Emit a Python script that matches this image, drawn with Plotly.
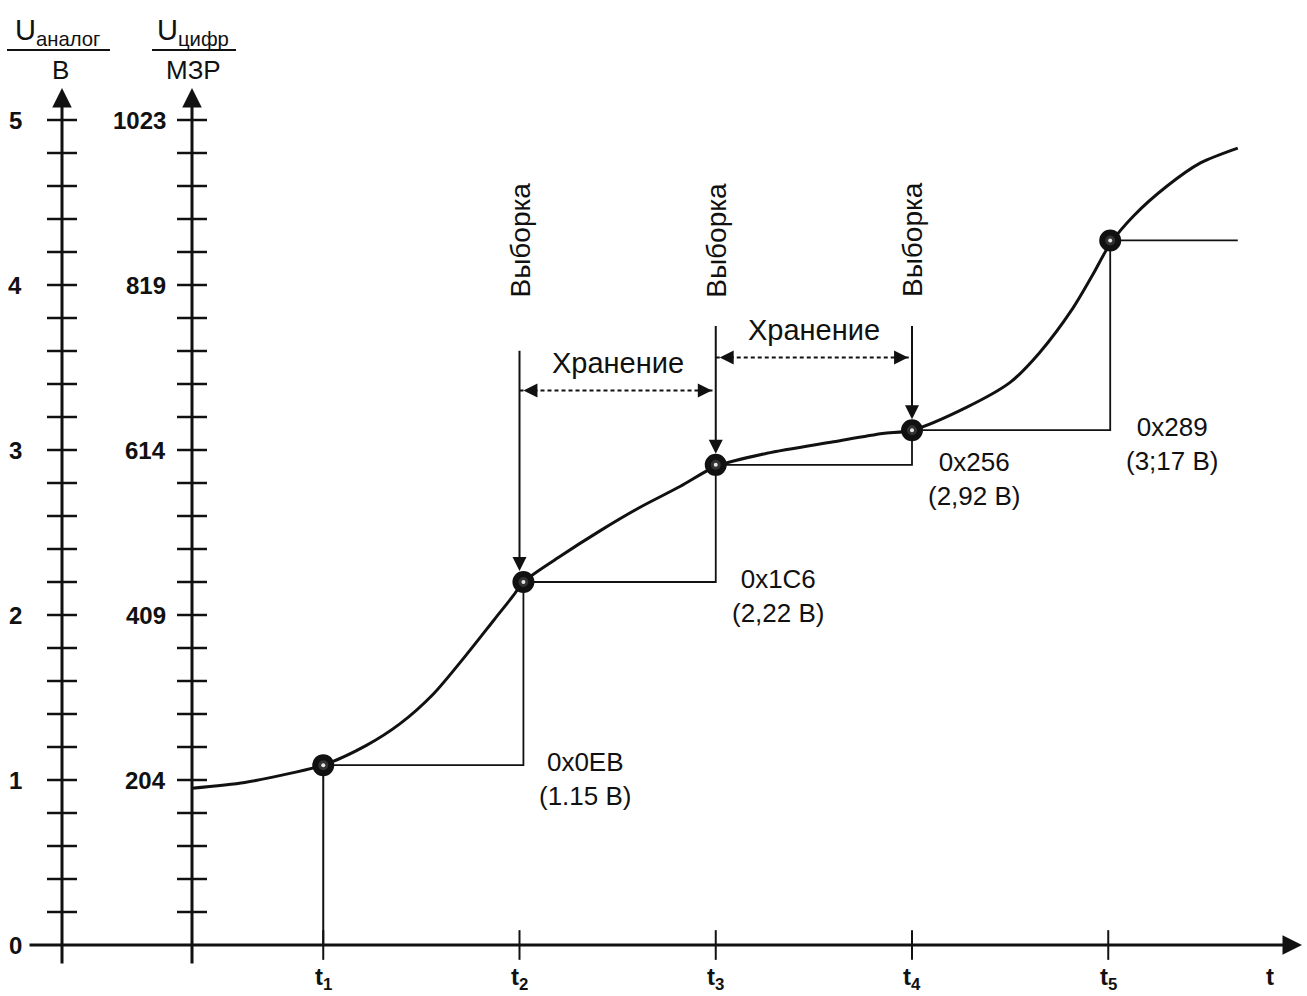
"""Sample-and-hold timing diagram for an ADC (analog vs. digital scale)."""

import plotly.graph_objects as go

# ---- data -----------------------------------------------------------------
# time axis: sampling instants in units of the sampling period
t_ticks = [1, 2, 3, 4, 5]
t_labels = ["t<sub>1</sub>", "t<sub>2</sub>", "t<sub>3</sub>", "t<sub>4</sub>", "t<sub>5</sub>"]

# left axis (volts) and right axis (LSB codes)
analog_levels = [0, 1, 2, 3, 4, 5]
analog_labels = ["0", "1", "2", "3", "4", "5"]
digital_levels = [1, 2, 3, 4, 5]
digital_labels = ["204", "409", "614", "819", "1023"]
minor_step = 0.2

# analog input signal
curve_t = [0.33, 0.6, 0.83, 1.0, 1.22, 1.39, 1.56, 1.73, 1.87, 1.97, 2.02,
           2.2, 2.41, 2.61, 2.82, 3.0, 3.26, 3.6, 3.85, 4.0, 4.28, 4.5, 4.65,
           4.82, 4.92, 5.01, 5.13, 5.3, 5.47, 5.66]
curve_v = [0.95, 0.985, 1.04, 1.09, 1.21, 1.34, 1.52, 1.76, 1.97, 2.12, 2.2,
           2.35, 2.51, 2.65, 2.78, 2.9, 2.98, 3.05, 3.1, 3.12, 3.26, 3.41, 3.59,
           3.86, 4.06, 4.25, 4.42, 4.6, 4.74, 4.83]

# sampled values (held until the next sample)
sample_t = [1.0, 2.02, 3.0, 4.0, 5.01]
sample_v = [1.09, 2.2, 2.91, 3.12, 4.27]
hold_end_t = 5.66

sample_codes = ["0x0EB", "0x1C6", "0x256", "0x289"]
sample_volts = ["(1.15 В)", "(2,22 В)", "(2,92 В)", "(3;17 В)"]

# "Выборка" markers and "Хранение" spans
select_t = [2.0, 3.0, 4.0]
select_top = [3.61, 3.76, 3.76]
hold_from = [2.0, 3.0]
hold_to = [3.0, 4.0]
hold_level = [3.36, 3.56]

# ---- geometry helpers (pixel layout of the drawing) -------------------------
W, H = 1307, 996
X0_PX, X_SCALE = 127, 196.25
Y0_PX, Y_SCALE = 945, 165.0


def px_x(px):
    return (px - X0_PX) / X_SCALE


def px_y(py):
    return (Y0_PX - py) / Y_SCALE


ANALOG_X = px_x(62)
DIGITAL_X = px_x(192)
AXIS_BOTTOM = px_y(965)
AXIS_TOP = px_y(88)
TICK_HALF = 15 / X_SCALE

INK = "#111111"
FONT = "Arial, Liberation Sans, sans-serif"

fig = go.Figure()

# vertical axis ticks (both scales share the same spacing)
n_minor = int(round(5 / minor_step))
tick_x, tick_y = [], []
for axis_x in (ANALOG_X, DIGITAL_X):
    for i in range(1, n_minor + 1):
        v = i * minor_step
        tick_x += [axis_x - TICK_HALF, axis_x + TICK_HALF, None]
        tick_y += [v, v, None]
fig.add_trace(go.Scatter(x=tick_x, y=tick_y, mode="lines",
                         line=dict(color=INK, width=2.5), hoverinfo="skip"))

# time axis ticks
tx, ty = [], []
for t in t_ticks:
    tx += [t, t, None]
    ty += [0.09, -0.09, None]
fig.add_trace(go.Scatter(x=tx, y=ty, mode="lines",
                         line=dict(color=INK, width=2), hoverinfo="skip"))

# hold staircase
stair_t = sample_t + [hold_end_t]
stair_v = sample_v + [sample_v[-1]]
fig.add_trace(go.Scatter(x=stair_t, y=stair_v, mode="lines", line_shape="hv",
                         line=dict(color=INK, width=1.8), hoverinfo="skip"))

# drop line from the first sample to the time axis
fig.add_trace(go.Scatter(x=[sample_t[0], sample_t[0]], y=[sample_v[0], 0],
                         mode="lines", line=dict(color=INK, width=2),
                         hoverinfo="skip"))

# "Хранение" spans (dashed)
for a, b, lvl in zip(hold_from, hold_to, hold_level):
    fig.add_trace(go.Scatter(x=[a, b], y=[lvl, lvl], mode="lines",
                             line=dict(color=INK, width=2, dash="4px,3px"),
                             hoverinfo="skip"))

# analog signal
fig.add_trace(go.Scatter(x=curve_t, y=curve_v, mode="lines",
                         line=dict(color=INK, width=3, shape="spline", smoothing=0.8),
                         hoverinfo="skip"))

# sample points: dark ring with a small light centre
fig.add_trace(go.Scatter(x=sample_t, y=sample_v, mode="markers",
                         marker=dict(size=16, color="#333333",
                                     line=dict(color=INK, width=6)),
                         hoverinfo="skip"))
fig.add_trace(go.Scatter(x=sample_t, y=sample_v, mode="markers",
                         marker=dict(size=4, color="#e6e6e6"),
                         hoverinfo="skip"))

annotations = []


def arrow(x, y, ax, ay, width=3, size=1.2, head=2, standoff=0):
    annotations.append(dict(
        x=x, y=y, ax=ax, ay=ay, xref="x", yref="y", axref="x", ayref="y",
        text="", showarrow=True, arrowhead=head, arrowwidth=width,
        arrowsize=size, arrowcolor=INK, standoff=standoff))


def label(x, y, text, size=24, bold=False, **kw):
    txt = f"<b>{text}</b>" if bold else text
    annotations.append(dict(x=x, y=y, xref="x", yref="y", text=txt,
                            showarrow=False,
                            font=dict(family=FONT, size=size, color=INK), **kw))


# axes with arrowheads
arrow(ANALOG_X, AXIS_TOP, ANALOG_X, AXIS_BOTTOM, width=3, size=1.3)
arrow(DIGITAL_X, AXIS_TOP, DIGITAL_X, AXIS_BOTTOM, width=3, size=1.3)
arrow(px_x(1302), 0, px_x(28), 0, width=3, size=1.3)

# "Выборка" arrows down to the sample points
for t, top, v in zip(select_t, select_top, sample_v[1:4]):
    arrow(t, v, t, top, width=2, size=1.4, standoff=11)
    label(t, px_y(240), "Выборка", size=28, textangle=-90)

# "Хранение" arrowheads and captions
for a, b, lvl in zip(hold_from, hold_to, hold_level):
    arrow(a + 0.02, lvl, a + 0.09, lvl, width=2, size=1.4)
    arrow(b - 0.02, lvl, b - 0.09, lvl, width=2, size=1.4)
    label((a + b) / 2, lvl + 0.17, "Хранение", size=29)

# sample code labels next to each hold corner
for i, (code, volts) in enumerate(zip(sample_codes, sample_volts)):
    label(sample_t[i + 1], sample_v[i], f"{code}<br>{volts}", size=26,
          xanchor="left", yanchor="middle", xshift=14, yshift=-14, align="center")

# axis numbers
for lvl, txt in zip(analog_levels, analog_labels):
    label(px_x(15), lvl, txt, bold=True)
for lvl, txt in zip(digital_levels, digital_labels):
    label(px_x(168), lvl, txt, bold=True, xanchor="right")
for t, txt in zip(t_ticks, t_labels):
    label(t, px_y(978), txt, bold=True)
label(px_x(1270), px_y(976), "t", bold=True)

# axis titles (fraction form)
label(px_x(57), px_y(32), "U<sub>аналог</sub>", size=29)
label(px_x(60), px_y(70), "В", size=26)
label(px_x(193), px_y(32), "U<sub>цифр</sub>", size=29)
label(px_x(193), px_y(70), "МЗР", size=26)

shapes = [
    dict(type="line", xref="x", yref="y", x0=px_x(7), x1=px_x(110),
         y0=px_y(50), y1=px_y(50), line=dict(color=INK, width=2)),
    dict(type="line", xref="x", yref="y", x0=px_x(152), x1=px_x(236),
         y0=px_y(50), y1=px_y(50), line=dict(color=INK, width=2)),
]

fig.update_layout(
    width=W, height=H,
    margin=dict(l=0, r=0, t=0, b=0),
    plot_bgcolor="white", paper_bgcolor="white",
    showlegend=False,
    xaxis=dict(range=[px_x(0), px_x(W)], visible=False, fixedrange=True),
    yaxis=dict(range=[px_y(H), px_y(0)], visible=False, fixedrange=True),
    annotations=annotations,
    shapes=shapes,
    font=dict(family=FONT, color=INK),
)

fig.write_html("out.html", config={"displayModeBar": False},
               post_script="document.body.style.margin='0';")
